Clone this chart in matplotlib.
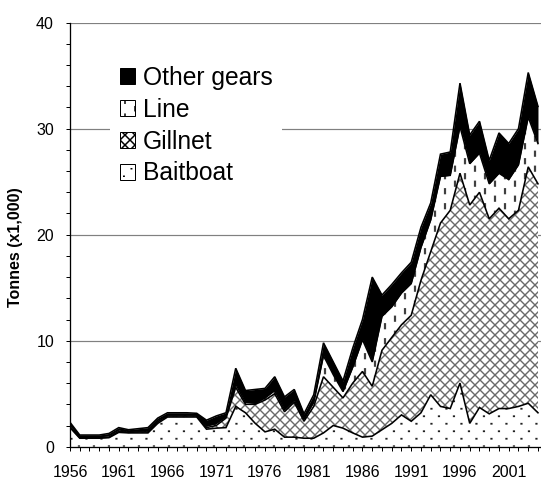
import numpy as np
import matplotlib
matplotlib.use("Agg")
import matplotlib.pyplot as plt
import matplotlib.hatch as mhatch
from matplotlib.path import Path
from matplotlib.patches import Patch, Rectangle
from matplotlib.ticker import MultipleLocator, FixedLocator

# ---------------- data (thousand tonnes) ----------------
years = list(range(1956, 2005))
baitboat = [1.8, 0.8, 0.8, 0.8, 0.85, 1.35, 1.3, 1.3, 1.3, 2.2,
            2.8, 2.8, 2.8, 2.8, 1.65, 1.75, 1.8, 3.8, 3.2, 2.2,
            1.4, 1.65, 0.9, 0.9, 0.8, 0.8, 1.3, 2.0, 1.75, 1.3,
            0.9, 1.0, 1.6, 2.2, 3.0, 2.4, 3.2, 4.9, 3.8, 3.6,
            6.0, 2.2, 3.7, 3.1, 3.6, 3.6, 3.8, 4.1, 3.2]
gillnet = [0.1, 0.05, 0.05, 0.05, 0.05, 0.1, 0.05, 0.1, 0.1, 0.15,
           0.1, 0.1, 0.1, 0.1, 0.15, 0.25, 0.9, 1.8, 0.8, 1.8,
           3.0, 3.35, 2.4, 3.3, 1.6, 3.0, 5.3, 3.6, 2.85, 4.7,
           6.2, 4.7, 7.5, 8.1, 8.5, 10.0, 12.5, 13.5, 17.3, 18.7,
           19.8, 20.6, 20.3, 18.4, 18.9, 17.9, 18.5, 22.3, 21.6]
line = [0.2, 0.1, 0.1, 0.1, 0.15, 0.15, 0.1, 0.1, 0.15, 0.15,
        0.1, 0.1, 0.1, 0.1, 0.15, 0.2, 0.15, 0.3, 0.2, 0.1,
        0.2, 0.3, 0.2, 0.2, 0.2, 0.4, 2.0, 1.2, 0.6, 1.5,
        3.0, 2.3, 3.2, 2.9, 3.0, 3.0, 3.1, 3.0, 4.4, 3.3,
        4.4, 3.9, 3.7, 3.3, 3.3, 3.7, 4.3, 4.7, 3.8]
other_gears = [0.2, 0.15, 0.15, 0.15, 0.2, 0.2, 0.15, 0.2, 0.25, 0.2,
               0.2, 0.2, 0.2, 0.15, 0.55, 0.7, 0.35, 1.5, 1.1, 1.3,
               0.9, 1.3, 1.2, 1.0, 0.5, 0.7, 1.2, 1.2, 1.0, 1.8,
               1.9, 8.0, 2.0, 2.1, 1.9, 2.0, 1.9, 1.6, 2.1, 2.2,
               4.1, 2.7, 3.0, 2.2, 3.8, 3.4, 3.4, 4.2, 3.5]
series_names = ["Baitboat", "Gillnet", "Line", "Other gears"]
x_tick_years = [1956, 1961, 1966, 1971, 1976, 1981, 1986, 1991, 1996, 2001]
y_ticks = [0, 10, 20, 30, 40]
y_label = "Tonnes (x1,000)"

DPI = 60
PT = 72.0 / DPI  # points per pixel
plt.rcParams['font.family'] = ['Liberation Sans', 'DejaVu Sans']


# ---------------- measure the hatch tile size (pixels) ----------------
def measure_hatch_unit(dpi):
    f = plt.figure(figsize=(3, 3), dpi=dpi)
    a = f.add_axes([0, 0, 1, 1])
    a.set_axis_off()
    a.add_patch(Rectangle((0, 0), 1, 1, transform=a.transAxes, facecolor='white',
                          edgecolor='black', hatch='-', lw=0))
    f.canvas.draw()
    arr = np.asarray(f.canvas.buffer_rgba())[:, :, 0].astype(float)
    col = arr[:, arr.shape[1] // 2]
    dark = np.where(col < 160)[0]
    plt.close(f)
    if len(dark) < 3:
        return float(dpi)
    starts = dark[np.insert(np.diff(dark) > 1, 0, True)]
    if len(starts) < 2:
        return float(dpi)
    return float(np.median(np.diff(starts))) * 6.0


UNIT = measure_hatch_unit(DPI)
# diagonal hatch lines are spaced 2/num_lines of the tile horizontally -> 10 px
N_CROSS = max(1, int(round(UNIT / 5.0)))


# ---------------- custom hatches (sizes in pixels via UNIT) ----------------
class DenseNE(mhatch.NorthEastHatch):
    def __init__(self, hatch, density):
        super().__init__(hatch, N_CROSS)


class DenseSE(mhatch.SouthEastHatch):
    def __init__(self, hatch, density):
        super().__init__(hatch, N_CROSS)


class DashedVerticalHatch(mhatch.HatchPatternBase):
    """'|' -> short vertical dashes in staggered columns."""
    def __init__(self, hatch, density):
        n = hatch.count('|') + hatch.count('+')
        self.num_cols = int(max(2, round(UNIT / 10.0))) * n
        self.num_dash = int(max(2, round(UNIT / 17.0))) if n else 0
        self.num_vertices = self.num_cols * self.num_dash * 2

    def set_vertices_and_codes(self, vertices, codes):
        i = 0
        dl = 4.0 / UNIT
        for c in range(self.num_cols):
            xpos = (c + 0.5) / self.num_cols
            off = 0.03 if c % 2 == 0 else 0.03 + 0.5 / self.num_dash
            for k in range(self.num_dash):
                y0 = off + k / self.num_dash
                vertices[i] = (xpos, y0)
                vertices[i + 1] = (xpos, y0 + dl)
                codes[i] = Path.MOVETO
                codes[i + 1] = Path.LINETO
                i += 2


class SparseDotHatch(mhatch.HatchPatternBase):
    """'.' -> small dots on a staggered grid (15 px across, 8 px down)."""
    def __init__(self, hatch, density):
        n = hatch.count('.')
        self.num_cols = int(max(2, round(UNIT / 15.0))) if n else 0
        self.num_rows = 2 * int(max(1, round(UNIT / 16.0))) if n else 0
        self.num_vertices = self.num_cols * self.num_rows * 2

    def set_vertices_and_codes(self, vertices, codes):
        i = 0
        d = 0.4 / UNIT
        for r in range(self.num_rows):
            ypos = (r + 0.5) / self.num_rows
            shift = 0.0 if r % 2 == 0 else 0.5
            for c in range(self.num_cols):
                xpos = (c + 0.25 + shift) / self.num_cols
                vertices[i] = (xpos, ypos)
                vertices[i + 1] = (xpos + d, ypos)
                codes[i] = Path.MOVETO
                codes[i + 1] = Path.LINETO
                i += 2


_swap = {mhatch.VerticalHatch: DashedVerticalHatch,
         mhatch.SmallFilledCircles: SparseDotHatch,
         mhatch.NorthEastHatch: DenseNE,
         mhatch.SouthEastHatch: DenseSE}
mhatch._hatch_types = [_swap.get(t, t) for t in mhatch._hatch_types]

plt.rcParams['hatch.linewidth'] = 1.8


def set_hlw(artist, lw):
    if hasattr(artist, 'set_hatch_linewidth'):
        artist.set_hatch_linewidth(lw)


# ---------------- figure ----------------
fig = plt.figure(figsize=(541 / DPI, 479 / DPI), dpi=DPI)
ax = fig.add_axes([70 / 541, (479 - 446.7) / 479, 471 / 541, 424 / 479])

x = np.array(years, dtype=float)
c1 = np.array(baitboat)
c2 = c1 + np.array(gillnet)
c3 = c2 + np.array(line)
c4 = c3 + np.array(other_gears)

f1 = ax.fill_between(x, 0, c1, facecolor='white', edgecolor='#222222', hatch='.', linewidth=0, zorder=2)
f2 = ax.fill_between(x, c1, c2, facecolor='white', edgecolor='#6a6a6a', hatch='x', linewidth=0, zorder=2)
f3 = ax.fill_between(x, c2, c3, facecolor='white', edgecolor='#404040', hatch='|', linewidth=0, zorder=2)
ax.fill_between(x, c3, c4, facecolor='black', edgecolor='black', linewidth=0, zorder=2)
set_hlw(f1, 1.8 * PT)
set_hlw(f2, 1.4 * PT)
set_hlw(f3, 2.2 * PT)

for top in (c1, c2, c3, c4):
    ax.plot(x, top, color='black', lw=1.6 * PT, zorder=3, solid_joinstyle='miter')

ax.set_xlim(1956, 2004.31)
ax.set_ylim(0, 40)

for s in ('top', 'right'):
    ax.spines[s].set_visible(False)
for s in ('left', 'bottom'):
    ax.spines[s].set_linewidth(1.3 * PT)
    ax.spines[s].set_color('black')

ax.set_yticks(y_ticks)
ax.yaxis.set_minor_locator(MultipleLocator(2))
ax.xaxis.set_major_locator(FixedLocator(x_tick_years))
ax.set_xticklabels([str(v) for v in x_tick_years])
ax.xaxis.set_minor_locator(MultipleLocator(1))

ax.tick_params(axis='both', which='both', direction='out', length=4 * PT,
               width=1 * PT, color='black')
ax.tick_params(axis='x', which='major', labelsize=16 * PT, pad=14 * PT)
ax.tick_params(axis='y', which='major', labelsize=16 * PT, pad=12 * PT)

for v in y_ticks[1:]:
    ax.axhline(v, color='#808080', lw=1.2 * PT, zorder=1)

ax.set_ylabel(y_label, fontsize=16 * PT, fontweight='bold')
ax.yaxis.set_label_coords(-0.1, 0.47)

handles = [
    Patch(facecolor='black', edgecolor='black', linewidth=1 * PT, label=series_names[3]),
    Patch(facecolor='white', edgecolor='black', linewidth=1 * PT, hatch='|', label=series_names[2]),
    Patch(facecolor='white', edgecolor='black', linewidth=1 * PT, hatch='x', label=series_names[1]),
    Patch(facecolor='white', edgecolor='black', linewidth=1 * PT, hatch='.', label=series_names[0]),
]
leg = fig.legend(handles=handles, loc='upper left',
                 bbox_to_anchor=(110 / 541, 1 - 56 / 479), bbox_transform=fig.transFigure,
                 borderaxespad=0, borderpad=0.4, frameon=True, fancybox=False,
                 facecolor='white', edgecolor='none', framealpha=1,
                 fontsize=24.6 * PT, handlelength=0.6, handleheight=0.6,
                 handletextpad=0.33, labelspacing=0.32)
leg.set_zorder(5)

fig.savefig('out.png', dpi=DPI)
